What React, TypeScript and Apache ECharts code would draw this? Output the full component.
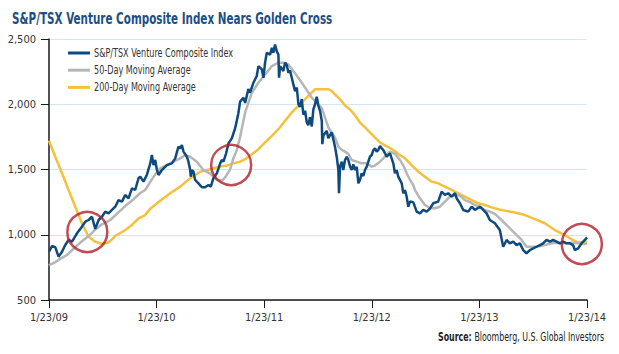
import React, { useEffect, useRef } from "react";
import * as echarts from "echarts";

// x = years since 1/23/09
const tickLabels = ["1/23/09", "1/23/10", "1/23/11", "1/23/12", "1/23/13", "1/23/14"];

const indexSeries: [number, number][] = [
  [0.000, 870], [0.028, 914], [0.058, 905], [0.089, 832], [0.121, 870], [0.151, 921], [0.182, 960],
  [0.214, 947], [0.260, 1011], [0.306, 1062], [0.337, 1100], [0.368, 1113], [0.399, 1138], [0.430, 1045],
  [0.461, 1113], [0.492, 1138], [0.523, 1177], [0.553, 1164], [0.585, 1190], [0.616, 1215], [0.646, 1266],
  [0.678, 1254], [0.708, 1305], [0.739, 1279], [0.771, 1356], [0.801, 1343], [0.832, 1433], [0.848, 1445],
  [0.878, 1407], [0.910, 1460], [0.941, 1547], [0.956, 1611], [0.971, 1534], [0.987, 1573], [1.003, 1496],
  [1.018, 1458], [1.049, 1496], [1.096, 1534], [1.142, 1547], [1.173, 1585], [1.203, 1675], [1.219, 1662],
  [1.235, 1688], [1.250, 1637], [1.281, 1598], [1.296, 1560], [1.312, 1496], [1.318, 1445], [1.328, 1496],
  [1.343, 1483], [1.358, 1420], [1.389, 1394], [1.421, 1364], [1.451, 1364], [1.482, 1381], [1.504, 1369],
  [1.528, 1433], [1.560, 1471], [1.591, 1547], [1.606, 1573], [1.621, 1560], [1.646, 1624], [1.668, 1700],
  [1.699, 1739], [1.730, 1816], [1.760, 1931], [1.776, 2020], [1.807, 2050], [1.823, 2010], [1.853, 2117],
  [1.869, 2090], [1.900, 2165], [1.931, 2216], [1.946, 2292], [1.978, 2267], [1.993, 2203], [2.008, 2318],
  [2.024, 2394], [2.055, 2380], [2.071, 2432], [2.085, 2394], [2.101, 2458], [2.117, 2405], [2.132, 2380],
  [2.138, 2203], [2.148, 2292], [2.178, 2254], [2.194, 2318], [2.210, 2300], [2.225, 2241], [2.240, 2260],
  [2.271, 2152], [2.287, 2101], [2.303, 2127], [2.318, 2000], [2.333, 1980], [2.349, 2040], [2.364, 1920],
  [2.380, 1950], [2.396, 1860], [2.410, 1840], [2.426, 1900], [2.442, 1830], [2.457, 1960], [2.473, 2000],
  [2.488, 2058], [2.503, 1990], [2.519, 1950], [2.535, 1873], [2.540, 1694], [2.550, 1760], [2.581, 1796],
  [2.596, 1740], [2.628, 1784], [2.643, 1730], [2.658, 1675], [2.674, 1598], [2.689, 1500], [2.695, 1318],
  [2.705, 1522], [2.721, 1560], [2.735, 1496], [2.751, 1573], [2.767, 1598], [2.782, 1573], [2.798, 1522],
  [2.813, 1496], [2.828, 1540], [2.844, 1496], [2.860, 1520], [2.875, 1394], [2.890, 1420], [2.906, 1471],
  [2.921, 1450], [2.937, 1496], [2.953, 1522], [2.983, 1598], [2.999, 1611], [3.014, 1649], [3.030, 1662],
  [3.045, 1637], [3.060, 1649], [3.076, 1680], [3.092, 1662], [3.107, 1649], [3.123, 1624], [3.138, 1598],
  [3.169, 1624], [3.200, 1547], [3.215, 1471], [3.231, 1496], [3.246, 1445], [3.262, 1420], [3.278, 1394],
  [3.293, 1318], [3.308, 1343], [3.324, 1292], [3.339, 1215], [3.355, 1254], [3.385, 1250], [3.417, 1177],
  [3.448, 1164], [3.478, 1190], [3.510, 1177], [3.540, 1200], [3.571, 1241], [3.617, 1254], [3.649, 1330],
  [3.680, 1305], [3.710, 1318], [3.742, 1292], [3.773, 1318], [3.788, 1280], [3.819, 1241], [3.850, 1190],
  [3.896, 1177], [3.928, 1215], [3.958, 1190], [4.005, 1215], [4.035, 1190], [4.067, 1164], [4.097, 1113],
  [4.144, 1088], [4.190, 1036], [4.221, 908], [4.253, 960], [4.283, 934], [4.314, 947], [4.345, 921],
  [4.376, 934], [4.407, 883], [4.438, 857], [4.469, 883], [4.500, 895], [4.531, 908], [4.562, 921],
  [4.592, 934], [4.624, 960], [4.655, 947], [4.685, 960], [4.717, 947], [4.748, 934], [4.778, 947],
  [4.810, 934], [4.840, 934], [4.871, 921], [4.887, 883], [4.917, 895], [4.949, 934], [4.980, 960],
  [5.000, 980],
];

const ma50Series: [number, number][] = [
  [0.000, 765], [0.058, 790], [0.105, 815], [0.167, 845], [0.244, 905], [0.306, 950], [0.368, 990],
  [0.430, 1040], [0.492, 1080], [0.569, 1113], [0.643, 1170], [0.708, 1220], [0.783, 1270], [0.848, 1320],
  [0.894, 1343], [0.968, 1440], [1.033, 1509], [1.126, 1547], [1.219, 1585], [1.266, 1611], [1.312, 1598],
  [1.374, 1560], [1.435, 1496], [1.495, 1471], [1.560, 1420], [1.609, 1415], [1.637, 1440], [1.683, 1500],
  [1.711, 1580], [1.746, 1649], [1.776, 1750], [1.823, 1937], [1.885, 2088], [1.946, 2165], [2.008, 2228],
  [2.071, 2292], [2.132, 2318], [2.194, 2318], [2.225, 2305], [2.271, 2254], [2.318, 2203], [2.380, 2127],
  [2.442, 2050], [2.503, 2000], [2.535, 1970], [2.565, 1900], [2.596, 1822], [2.658, 1746], [2.689, 1675],
  [2.721, 1650], [2.751, 1637], [2.782, 1620], [2.813, 1573], [2.860, 1560], [2.906, 1547], [2.953, 1547],
  [2.999, 1522], [3.030, 1530], [3.076, 1560], [3.123, 1598], [3.169, 1637], [3.215, 1620], [3.262, 1573],
  [3.293, 1530], [3.324, 1471], [3.355, 1420], [3.385, 1381], [3.401, 1343], [3.448, 1279], [3.494, 1228],
  [3.540, 1203], [3.587, 1203], [3.633, 1215], [3.680, 1254], [3.726, 1292], [3.773, 1305], [3.819, 1300],
  [3.865, 1266], [3.912, 1250], [3.958, 1228], [4.005, 1215], [4.051, 1190], [4.097, 1177], [4.144, 1160],
  [4.206, 1113], [4.267, 1062], [4.330, 1011], [4.392, 960], [4.438, 908], [4.485, 908], [4.546, 910],
  [4.608, 921], [4.670, 934], [4.732, 938], [4.794, 934], [4.856, 939], [4.917, 934], [4.980, 929],
  [5.000, 934],
];

const ma200Series: [number, number][] = [
  [0.000, 1720], [0.058, 1598], [0.121, 1471], [0.182, 1343], [0.244, 1215], [0.306, 1088], [0.368, 985],
  [0.430, 947], [0.492, 929], [0.553, 940], [0.616, 990], [0.708, 1036], [0.771, 1075], [0.832, 1126],
  [0.894, 1151], [0.941, 1200], [1.033, 1260], [1.126, 1318], [1.219, 1369], [1.312, 1433], [1.358, 1458],
  [1.405, 1483], [1.467, 1496], [1.528, 1509], [1.591, 1522], [1.653, 1530], [1.714, 1547], [1.776, 1560],
  [1.823, 1579], [1.885, 1617], [1.946, 1656], [2.008, 1707], [2.071, 1758], [2.132, 1809], [2.194, 1873],
  [2.256, 1937], [2.318, 1988], [2.380, 2039], [2.442, 2090], [2.473, 2115], [2.596, 2115], [2.628, 2100],
  [2.658, 2075], [2.705, 2039], [2.751, 1990], [2.798, 1960], [2.844, 1915], [2.890, 1860], [2.937, 1822],
  [2.983, 1784], [3.030, 1745], [3.076, 1707], [3.123, 1685], [3.169, 1665], [3.215, 1640], [3.262, 1610],
  [3.308, 1586], [3.370, 1534], [3.432, 1483], [3.494, 1445], [3.556, 1407], [3.617, 1394], [3.680, 1369],
  [3.742, 1343], [3.803, 1318], [3.865, 1292], [3.928, 1266], [3.989, 1241], [4.051, 1228], [4.113, 1210],
  [4.175, 1195], [4.237, 1185], [4.330, 1170], [4.423, 1151], [4.515, 1120], [4.608, 1088], [4.701, 1036],
  [4.794, 998], [4.856, 965], [4.902, 947], [4.949, 940], [5.000, 947],
];

// highlighted crossover points
const crossPoints: [number, number][] = [
  [0.356, 1021],
  [1.693, 1534],
  [4.952, 929],
];

const seriesNames = [
  "S&P/TSX Venture Composite Index",
  "50-Day Moving Average",
  "200-Day Moving Average",
];
const seriesColors = ["#0e4a7e", "#b6b6b6", "#f5c13c"];

const FONT = "'Liberation Sans Narrow', 'DejaVu Sans Condensed', 'Roboto Condensed', Arial, sans-serif";
const SQUEEZE = 0.72;

export default function App() {
  const ref = useRef<HTMLDivElement>(null);
  useEffect(() => {
    if (!ref.current) return;
    const chart = echarts.init(ref.current, undefined, { renderer: "svg" });

    const legendItems: any[] = [];
    seriesNames.forEach((name, i) => {
      const y = 53 + i * 17.2;
      legendItems.push({
        type: "rect",
        shape: { x: 68, y: y - 1.5, width: 22, height: 3 },
        style: { fill: seriesColors[i] },
        z: 10,
      });
      legendItems.push({
        type: "text",
        x: 94,
        y: y,
        scaleX: SQUEEZE,
        style: {
          text: name,
          fontFamily: FONT,
          fontSize: 12.5,
          fill: "#333333",
          verticalAlign: "middle",
          align: "left",
        },
        z: 10,
      });
    });

    chart.setOption({
      animation: false,
      backgroundColor: "#ffffff",
      textStyle: { fontFamily: FONT },
      grid: { left: 49, right: 32, top: 39, bottom: 54 },
      xAxis: {
        type: "value",
        min: 0,
        max: 5,
        interval: 1,
        axisLine: { show: true, onZero: false, lineStyle: { color: "#1a1a1a", width: 1.5 } },
        axisTick: { show: true, length: 8, lineStyle: { color: "#1a1a1a", width: 1 } },
        axisLabel: {
          margin: 12,
          fontFamily: FONT,
          fontSize: 11,
          color: "#333333",
          formatter: (v: number) => tickLabels[Math.round(v)] ?? "",
        },
        splitLine: { show: false },
      },
      yAxis: {
        type: "value",
        min: 500,
        max: 2500,
        interval: 500,
        axisLine: { show: true, lineStyle: { color: "#1a1a1a", width: 1.5 } },
        axisTick: { show: true, length: 8, lineStyle: { color: "#1a1a1a", width: 1 } },
        axisLabel: {
          margin: 13,
          fontFamily: FONT,
          fontSize: 11,
          color: "#333333",
          formatter: (v: number) => v.toLocaleString("en-US"),
        },
        splitLine: { show: true, lineStyle: { color: "#cfe7f2", width: 1.2 } },
      },
      series: [
        {
          name: seriesNames[2],
          type: "line",
          data: ma200Series,
          showSymbol: false,
          color: seriesColors[2],
          lineStyle: { width: 2.5, color: seriesColors[2] },
          z: 2,
        },
        {
          name: seriesNames[1],
          type: "line",
          data: ma50Series,
          showSymbol: false,
          color: seriesColors[1],
          lineStyle: { width: 2.5, color: seriesColors[1] },
          z: 3,
        },
        {
          name: seriesNames[0],
          type: "line",
          data: indexSeries,
          showSymbol: false,
          color: seriesColors[0],
          lineStyle: { width: 2.5, color: seriesColors[0] },
          z: 4,
        },
        {
          name: "cross",
          type: "scatter",
          data: crossPoints,
          symbol: "circle",
          symbolSize: 40,
          itemStyle: { color: "rgba(0,0,0,0)", borderColor: "#b01f2d", borderWidth: 2.5 },
          z: 5,
          silent: true,
        },
      ],
      graphic: [
        {
          type: "text",
          x: 12,
          y: 18,
          scaleX: 0.70,
          style: {
            text: "S&P/TSX Venture Composite Index Nears Golden Cross",
            fontFamily: FONT,
            fontSize: 16.5,
            fontWeight: "bold",
            fill: "#1d4f84",
            verticalAlign: "middle",
            align: "left",
          },
        },
        ...legendItems,
        {
          type: "text",
          x: 604,
          y: 337,
          scaleX: 0.70,
          style: {
            text: "{b|Source:} Bloomberg, U.S. Global Investors",
            fontFamily: FONT,
            fontSize: 12.5,
            fill: "#222222",
            align: "right",
            verticalAlign: "middle",
            rich: {
              b: { fontFamily: FONT, fontSize: 12.5, fontWeight: "bold", fill: "#222222" },
            },
          },
        },
      ],
    });
    return () => chart.dispose();
  }, []);
  return (
    <div
      ref={ref}
      style={{ position: "fixed", left: 0, top: 0, width: 619, height: 354 }}
    />
  );
}
